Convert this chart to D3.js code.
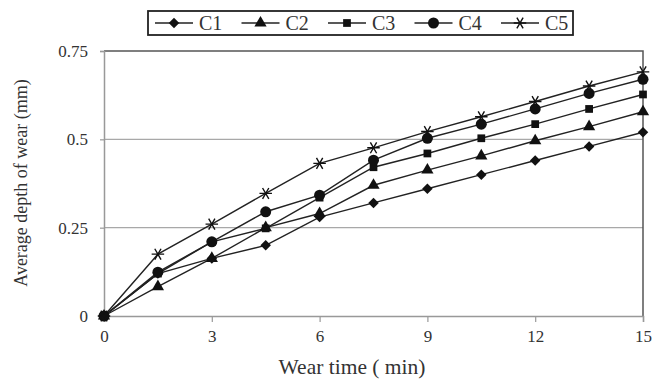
<!DOCTYPE html>
<html>
<head>
<meta charset="utf-8">
<script src="https://cdn.jsdelivr.net/npm/d3@7"></script>
<style>
  body { margin: 0; background: #fff; }
  text { font-family: "Liberation Serif", "DejaVu Serif", serif; fill: #333; }
</style>
</head>
<body>
<div id="chart"></div>
<script>
// Data
var times = [0, 1.5, 3, 4.5, 6, 7.5, 9, 10.5, 12, 13.5, 15];
var c1 = [0, 0.12, 0.163, 0.2, 0.28, 0.32, 0.36, 0.40, 0.44, 0.48, 0.52];
var c2 = [0, 0.083, 0.163, 0.25, 0.29, 0.37, 0.413, 0.453, 0.496, 0.536, 0.578];
var c3 = [0, 0.12, 0.21, 0.248, 0.335, 0.421, 0.46, 0.503, 0.543, 0.586, 0.627];
var c4 = [0, 0.124, 0.21, 0.295, 0.342, 0.441, 0.503, 0.543, 0.586, 0.63, 0.67];
var c5 = [0, 0.175, 0.26, 0.347, 0.432, 0.476, 0.522, 0.564, 0.607, 0.651, 0.691];
var seriesNames = ['C1', 'C2', 'C3', 'C4', 'C5'];
var seriesValues = [c1, c2, c3, c4, c5];
var xTicks = [0, 3, 6, 9, 12, 15];
var yTicks = [0, 0.25, 0.5, 0.75];

// Set margin parameters
var margin = {top: 51, right: 9, bottom: 63, left: 104},
    width = 652 - margin.left - margin.right,
    height = 379 - margin.top - margin.bottom;

var x = d3.scaleLinear().domain([0, 15]).range([0, width]);
var y = d3.scaleLinear().domain([0, 0.75]).range([height, 0]);

// marker shapes: diamond = rotated square, star = rotated asterisk
var symbols = [d3.symbolSquare, d3.symbolTriangle, d3.symbolSquare, d3.symbolCircle, d3.symbolAsterisk];
var sizes = [55, 65, 60, 95, 110];
var rotations = [45, 0, 0, 0, 90];

function markerTransform(px, py, s) {
  return 'translate(' + px + ',' + py + ') rotate(' + rotations[s] + ')';
}

var svg = d3.select('#chart')
    .append('svg')
    .attr('width', 652)
    .attr('height', 379);

var g = svg.append('g')
    .attr('transform', 'translate(' + margin.left + ',' + margin.top + ')');

// Gridlines
g.selectAll('.grid')
    .data(yTicks.filter(function(d) { return d > 0 && d < 0.75; }))
    .enter().append('line')
    .attr('x1', 0).attr('x2', width)
    .attr('y1', function(d) { return y(d); })
    .attr('y2', function(d) { return y(d); })
    .attr('stroke', '#a8a8a8')
    .attr('stroke-width', 1.2);

// Top and right border
g.append('path')
    .attr('d', 'M0,' + y(0.75) + 'H' + width + 'V' + height)
    .attr('fill', 'none')
    .attr('stroke', '#555')
    .attr('stroke-width', 1.5);

// x axis
var xAxis = g.append('g')
    .attr('transform', 'translate(0,' + height + ')')
    .call(d3.axisBottom(x).tickValues(xTicks).tickSize(6).tickPadding(8).tickFormat(d3.format('d')));
xAxis.select('.domain').attr('stroke', '#999').attr('stroke-width', 1.5);
xAxis.selectAll('.tick line').attr('stroke', '#999').attr('stroke-width', 1.2);
xAxis.selectAll('.tick text').style('font-size', '17px').attr('fill', '#333')
    .style('font-family', '"Liberation Serif", serif');

// y axis
var yAxis = g.append('g')
    .call(d3.axisLeft(y).tickValues(yTicks).tickSize(4).tickPadding(12)
      .tickFormat(function(d) { return d === 0 ? '0' : String(d); }));
yAxis.select('.domain').attr('stroke', '#999').attr('stroke-width', 1.5);
yAxis.selectAll('.tick line').attr('stroke', '#999').attr('stroke-width', 1.2);
yAxis.selectAll('.tick text').style('font-size', '17px').attr('fill', '#333')
    .style('font-family', '"Liberation Serif", serif');

// Axis titles
g.append('text')
    .attr('x', 352 - margin.left)
    .attr('y', height + 58)
    .style('text-anchor', 'middle')
    .style('font-size', '21.5px')
    .text('Wear time ( min)');

g.append('text')
    .attr('transform', 'rotate(-90)')
    .attr('x', -(183 - margin.top))
    .attr('y', -77)
    .style('text-anchor', 'middle')
    .style('font-size', '18px')
    .text('Average depth of wear (mm)');

// Lines and markers
var line = d3.line()
    .x(function(d, i) { return x(times[i]); })
    .y(function(d) { return y(d); });

seriesValues.forEach(function(vals, s) {
  g.append('path')
      .datum(vals)
      .attr('fill', 'none')
      .attr('stroke', '#222')
      .attr('stroke-width', 1.4)
      .attr('d', line);
});

seriesValues.forEach(function(vals, s) {
  g.selectAll('.m' + s)
      .data(vals)
      .enter().append('path')
      .attr('transform', function(d, i) { return markerTransform(x(times[i]), y(d), s); })
      .attr('d', d3.symbol().type(symbols[s]).size(sizes[s]))
      .attr('fill', s === 4 ? 'none' : '#111')
      .attr('stroke', s === 4 ? '#111' : 'none')
      .attr('stroke-width', 1.4);
});

// Legend
var legend = svg.append('g').attr('transform', 'translate(148,11)');
legend.append('rect')
    .attr('width', 425).attr('height', 24)
    .attr('fill', '#fff')
    .attr('stroke', '#222')
    .attr('stroke-width', 1.8);

var item = legend.selectAll('.item')
    .data(seriesNames)
    .enter().append('g')
    .attr('transform', function(d, i) { return 'translate(' + (7 + i * 86.5) + ',12)'; });

item.append('line')
    .attr('x1', 0).attr('x2', 38)
    .attr('stroke', '#222').attr('stroke-width', 1.4);
item.append('path')
    .attr('transform', function(d, i) { return markerTransform(19, 0, i); })
    .attr('d', function(d, i) { return d3.symbol().type(symbols[i]).size(sizes[i])(); })
    .attr('fill', function(d, i) { return i === 4 ? 'none' : '#111'; })
    .attr('stroke', function(d, i) { return i === 4 ? '#111' : 'none'; })
    .attr('stroke-width', 1.4);
item.append('text')
    .attr('x', 44)
    .attr('y', 7)
    .style('font-size', '20px')
    .text(function(d) { return d; });
</script>
</body>
</html>
